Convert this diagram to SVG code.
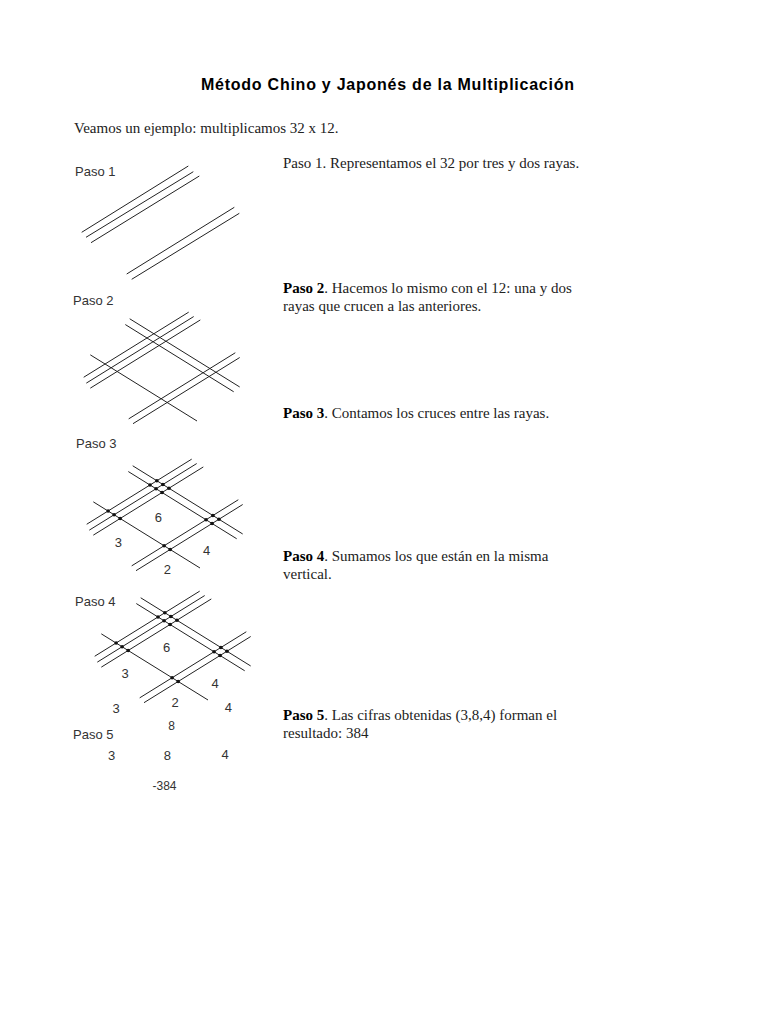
<svg xmlns="http://www.w3.org/2000/svg" xmlns:xlink="http://www.w3.org/1999/xlink" width="768" height="1024" viewBox="0 0 768 1024">
<style>
.ln{stroke:#222;stroke-width:1;fill:none}
.dt{fill:#111}
.lab{font-family:"Liberation Sans",Arial,sans-serif;font-size:13px;fill:#333}
.num{font-family:"Liberation Sans",Arial,sans-serif;font-size:13px;fill:#333;text-anchor:middle}
.body{font-family:"Liberation Serif","Times New Roman",serif;font-size:15px;fill:#222}
.b{font-weight:bold;fill:#000}
.title{font-family:"Liberation Sans",Arial,sans-serif;font-size:16px;font-weight:bold;fill:#000}
</style>
<defs>
<g id="grid">
<line class="ln" x1="86.7" y1="524.25" x2="191.7" y2="459.15"/>
<line class="ln" x1="89.3" y1="530.13" x2="196.7" y2="463.55"/>
<line class="ln" x1="93.3" y1="535.15" x2="203.3" y2="466.95"/>
<line class="ln" x1="131.7" y1="565.85" x2="238.3" y2="499.75"/>
<line class="ln" x1="136" y1="570.68" x2="242.7" y2="504.53"/>
<line class="ln" x1="93.3" y1="501.85" x2="200" y2="568"/>
<line class="ln" x1="132.7" y1="465.77" x2="242.7" y2="533.97"/>
<line class="ln" x1="128.3" y1="471.55" x2="236.7" y2="538.75"/>
</g>
<g id="dots">
<circle class="dt" cx="156.85" cy="480.75" r="1.8"/>
<circle class="dt" cx="150" cy="485" r="1.8"/>
<circle class="dt" cx="162.9" cy="484.5" r="1.8"/>
<circle class="dt" cx="156.05" cy="488.75" r="1.8"/>
<circle class="dt" cx="168.95" cy="488.25" r="1.8"/>
<circle class="dt" cx="162.1" cy="492.5" r="1.8"/>
<circle class="dt" cx="108.1" cy="511" r="1.8"/>
<circle class="dt" cx="114.1" cy="514.75" r="1.8"/>
<circle class="dt" cx="120.2" cy="518.5" r="1.8"/>
<circle class="dt" cx="212.9" cy="515.5" r="1.8"/>
<circle class="dt" cx="206.05" cy="519.75" r="1.8"/>
<circle class="dt" cx="218.95" cy="519.25" r="1.8"/>
<circle class="dt" cx="212.1" cy="523.5" r="1.8"/>
<circle class="dt" cx="164.1" cy="545.75" r="1.8"/>
<circle class="dt" cx="170.2" cy="549.5" r="1.8"/>
</g>
</defs>
<rect width="768" height="1024" fill="#fff"/>
<g id="header">
<text class="title" x="201" y="90" textLength="373" lengthAdjust="spacing">Método Chino y Japonés de la Multiplicación</text>
<text class="body" x="74" y="133">Veamos un ejemplo: multiplicamos 32 x 12.</text>
</g>
<g id="paso1">
<text class="lab" x="75" y="176">Paso 1</text>
<line class="ln" x1="81.7" y1="232.3" x2="188.3" y2="166"/>
<line class="ln" x1="86" y1="237.3" x2="193.3" y2="171.7"/>
<line class="ln" x1="91" y1="242.7" x2="199.3" y2="176"/>
<line class="ln" x1="126.7" y1="274" x2="234.3" y2="207.3"/>
<line class="ln" x1="131.7" y1="279.3" x2="239.3" y2="213.3"/>
<text class="body" x="283" y="168">Paso 1. Representamos el 32 por tres y dos rayas.</text>
</g>
<g id="paso2">
<text class="lab" x="73" y="304.5">Paso 2</text>
<use xlink:href="#grid" transform="translate(-3,-147)"/>
<text class="body" x="283" y="293"><tspan class="b">Paso 2</tspan>. Hacemos lo mismo con el 12: una y dos</text>
<text class="body" x="283" y="311">rayas que crucen a las anteriores.</text>
</g>
<g id="paso3">
<text class="lab" x="76" y="448">Paso 3</text>
<use xlink:href="#grid"/>
<use xlink:href="#dots"/>
<text class="num" x="158.3" y="521.5">6</text>
<text class="num" x="118.3" y="546.5">3</text>
<text class="num" x="206.7" y="555">4</text>
<text class="num" x="167.3" y="574">2</text>
<text class="body" x="283" y="418"><tspan class="b">Paso 3</tspan>. Contamos los cruces entre las rayas.</text>
</g>
<g id="paso4">
<text class="lab" x="75" y="605.5">Paso 4</text>
<use xlink:href="#grid" transform="translate(8,132)"/>
<use xlink:href="#dots" transform="translate(8,132)"/>
<text class="num" x="166.7" y="651.5">6</text>
<text class="num" x="125" y="678">3</text>
<text class="num" x="215" y="688">4</text>
<text class="num" x="175" y="707">2</text>
<text class="num" x="116" y="713">3</text>
<text class="num" x="228.3" y="711.5">4</text>
<text class="body" x="283" y="561"><tspan class="b">Paso 4</tspan>. Sumamos los que están en la misma</text>
<text class="body" x="283" y="579">vertical.</text>
</g>
<g id="paso5">
<text class="num" x="171.7" y="729.5" style="font-size:12px">8</text>
<text class="lab" x="73" y="738.5">Paso 5</text>
<text class="num" x="111.7" y="759.5">3</text>
<text class="num" x="167.3" y="759.5">8</text>
<text class="num" x="225" y="759">4</text>
<text class="num" x="164.5" y="789.5" style="font-size:12px">-384</text>
<text class="body" x="283" y="720"><tspan class="b">Paso 5</tspan>. Las cifras obtenidas (3,8,4) forman el</text>
<text class="body" x="283" y="738">resultado: 384</text>
</g>
</svg>
